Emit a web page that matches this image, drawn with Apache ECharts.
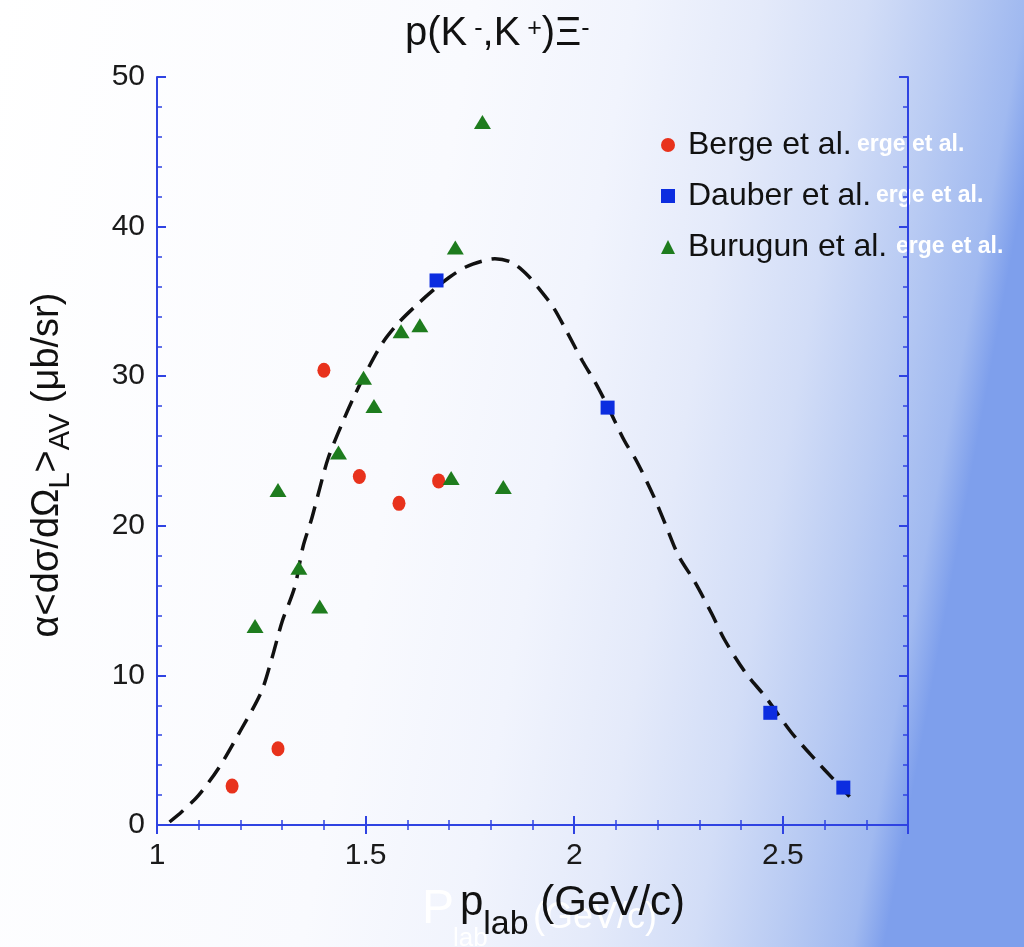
<!DOCTYPE html>
<html>
<head>
<meta charset="utf-8">
<script src="https://cdn.jsdelivr.net/npm/echarts@6/dist/echarts.min.js"></script>
<style>
html,body{margin:0;padding:0;}
#chart{width:1024px;height:947px;}
</style>
</head>
<body>
<div id="chart"></div>
<script>
// ---- data ----
const bergeX = [1.18, 1.29, 1.40, 1.485, 1.58, 1.675];
const bergeY = [2.6, 5.1, 30.4, 23.3, 21.5, 23.0];
const dauberX = [1.67, 2.08, 2.47, 2.645];
const dauberY = [36.4, 27.9, 7.5, 2.5];
const burugunX = [1.235, 1.29, 1.34, 1.39, 1.435, 1.495, 1.52, 1.585, 1.63, 1.705, 1.715, 1.78, 1.83];
const burugunY = [13.3, 22.4, 17.2, 14.6, 24.9, 29.9, 28.0, 33.0, 33.4, 23.2, 38.6, 47.0, 22.6];
const curveX = [1.03, 1.06, 1.10, 1.15, 1.20, 1.25, 1.275, 1.30, 1.33, 1.35, 1.37, 1.39, 1.41, 1.44, 1.47, 1.50, 1.54, 1.58, 1.62, 1.66, 1.70, 1.74, 1.78, 1.81, 1.85, 1.89, 1.92, 1.95, 1.98, 2.02, 2.05, 2.08, 2.12, 2.15, 2.19, 2.22, 2.25, 2.29, 2.33, 2.36, 2.41, 2.46, 2.52, 2.58, 2.62, 2.66];
const curveY = [0.2, 0.9, 2.0, 3.9, 6.3, 8.9, 11.1, 13.6, 15.9, 18.6, 20.4, 22.5, 24.5, 26.6, 28.5, 30.2, 32.2, 33.6, 34.7, 35.7, 36.6, 37.3, 37.7, 37.85, 37.6, 36.7, 35.7, 34.6, 33.1, 31.0, 29.6, 28.0, 25.7, 24.3, 22.0, 20.0, 18.0, 16.2, 14.1, 12.4, 10.2, 8.5, 6.2, 4.3, 3.1, 1.9];
const seriesNames = ['Berge et al.', 'Dauber et al.', 'Burugun et al.'];
const xTickLabels = ['1', '1.5', '2', '2.5'];
const yTickLabels = ['0', '10', '20', '30', '40', '50'];

const zip = (a, b) => a.map((v, i) => [v, b[i]]);
const FONT = "'Liberation Sans', Arial, Helvetica, sans-serif";
const AXIS_BLUE = '#2f43e2';

const chart = echarts.init(document.getElementById('chart'), null, {renderer: 'canvas'});

function axisCommon() {
  return {
    axisLine: {show: true, lineStyle: {color: AXIS_BLUE, width: 2}},
    axisTick: {show: true, inside: true, length: 9, lineStyle: {color: AXIS_BLUE, width: 2}},
    minorTick: {show: true, splitNumber: 5, length: 5, lineStyle: {color: AXIS_BLUE, width: 1.5}},
    splitLine: {show: false},
    minorSplitLine: {show: false}
  };
}

const xAxisBase = Object.assign(axisCommon(), {
  type: 'value', min: 1, max: 2.8, interval: 0.5
});
const yAxisBase = Object.assign(axisCommon(), {
  type: 'value', min: 0, max: 50, interval: 10
});

const option = {
  backgroundColor: {
    type: 'linear', x: 0, y: 0, x2: 1, y2: 0.2,
    colorStops: [
      {offset: 0, color: '#ffffff'},
      {offset: 0.45, color: '#f9fafe'},
      {offset: 0.6, color: '#f1f4fd'},
      {offset: 0.72, color: '#e4eafa'},
      {offset: 0.82, color: '#d2ddf7'},
      {offset: 0.9, color: '#b9cbf3'},
      {offset: 0.97, color: '#a0b9f0'},
      {offset: 1, color: '#7e9fec'}
    ]
  },
  animation: false,
  textStyle: {fontFamily: FONT},
  title: {
    left: 400, top: 9,
    text: '{a|p(K}{s| -}{a|,K}{s| +}{a|)Ξ}{s|-}',
    textStyle: {
      fontWeight: 'normal',
      rich: {
        a: {fontFamily: FONT, fontSize: 40, fontWeight: 'normal', color: '#111', lineHeight: 44, verticalAlign: 'top'},
        s: {fontFamily: FONT, fontSize: 25, fontWeight: 'normal', color: '#111', lineHeight: 25, verticalAlign: 'top', padding: [3, 0, 0, 0]}
      }
    }
  },
  legend: {
    orient: 'vertical',
    left: 656, top: 123,
    itemWidth: 14, itemHeight: 14,
    itemGap: 17,
    data: seriesNames,
    textStyle: {fontFamily: FONT, fontSize: 32, color: '#111', lineHeight: 34, padding: [0, 0, 0, 8]}
  },
  grid: {left: 157, right: 116, top: 77, bottom: 120, containLabel: false},
  xAxis: [
    Object.assign({}, xAxisBase, {
      position: 'bottom',
      name: '{a|p}{s|lab}{a| (GeV/c)}',
      nameLocation: 'middle',
      nameGap: 57,
      nameTextStyle: {
        padding: [0, 0, 0, 80],
        rich: {
          a: {fontFamily: FONT, fontSize: 42, color: '#111', lineHeight: 44, verticalAlign: 'top'},
          s: {fontFamily: FONT, fontSize: 34, color: '#111', lineHeight: 34, verticalAlign: 'top', padding: [26, 0, 0, 0]}
        }
      },
      axisLabel: {
        show: true, margin: 16, fontFamily: FONT, fontSize: 30, color: '#1a1a1a',
        showMaxLabel: false,
        formatter: v => {
          const i = Math.round((v - 1) / 0.5);
          return Math.abs((v - 1) / 0.5 - i) < 1e-6 && xTickLabels[i] !== undefined ? xTickLabels[i] : '';
        }
      }
    }),
    Object.assign({}, xAxisBase, {position: 'top', axisLabel: {show: false}})
  ],
  yAxis: [
    Object.assign({}, yAxisBase, {
      position: 'left',
      name: '{a|α<dσ/dΩ}{s|L}{a|>}{s|AV}{a| (μb/sr)}',
      nameLocation: 'middle',
      nameRotate: 90,
      nameGap: 90,
      nameTextStyle: {
        padding: [0, 28, 0, 0],
        rich: {
          a: {fontFamily: FONT, fontSize: 38, color: '#111', lineHeight: 38, verticalAlign: 'top'},
          s: {fontFamily: FONT, fontSize: 29, color: '#111', lineHeight: 29, verticalAlign: 'top', padding: [17, 0, 0, 0]}
        }
      },
      axisLabel: {
        show: true, margin: 12, fontFamily: FONT, fontSize: 30, color: '#1a1a1a',
        formatter: v => {
          const i = Math.round(v / 10);
          return yTickLabels[i] !== undefined ? yTickLabels[i] : '';
        }
      }
    }),
    Object.assign({}, yAxisBase, {position: 'right', axisLabel: {show: false}})
  ],
  series: [
    {
      name: 'curve', type: 'line', data: zip(curveX, curveY),
      xAxisIndex: 0, yAxisIndex: 0,
      showSymbol: false, symbol: 'none', smooth: 0.3,
      lineStyle: {color: '#111', width: 3.5, type: [18, 10]},
      z: 2
    },
    {
      name: seriesNames[0], type: 'scatter', data: zip(bergeX, bergeY),
      symbol: 'circle', symbolSize: [13, 15],
      itemStyle: {color: '#e8321c', opacity: 1}, z: 3
    },
    {
      name: seriesNames[1], type: 'scatter', data: zip(dauberX, dauberY),
      symbol: 'rect', symbolSize: [14, 14],
      itemStyle: {color: '#0c2de0', opacity: 1}, z: 3
    },
    {
      name: seriesNames[2], type: 'scatter', data: zip(burugunX, burugunY),
      symbol: 'triangle', symbolSize: [17, 14],
      itemStyle: {color: '#1e7c1e', opacity: 1}, z: 3
    }
  ],
  graphic: [
    {type: 'text', left: 857, top: 133, silent: true, style: {text: 'erge et al.', fill: '#ffffff', font: 'bold 23px ' + FONT}},
    {type: 'text', left: 876, top: 184, silent: true, style: {text: 'erge et al.', fill: '#ffffff', font: 'bold 23px ' + FONT}},
    {type: 'text', left: 896, top: 235, silent: true, style: {text: 'erge et al.', fill: '#ffffff', font: 'bold 23px ' + FONT}},
    {type: 'text', left: 422, top: 886, silent: true, z: -1, style: {text: 'P', fill: '#ffffff', font: '48px ' + FONT}},
    {type: 'text', left: 453, top: 926, silent: true, z: -1, style: {text: 'lab', fill: '#ffffff', font: '26px ' + FONT}},
    {type: 'text', left: 533, top: 900, silent: true, z: -1, style: {text: '(GeV/c)', fill: '#ffffff', font: '36px ' + FONT}}
  ]
};

chart.setOption(option);
</script>
</body>
</html>
